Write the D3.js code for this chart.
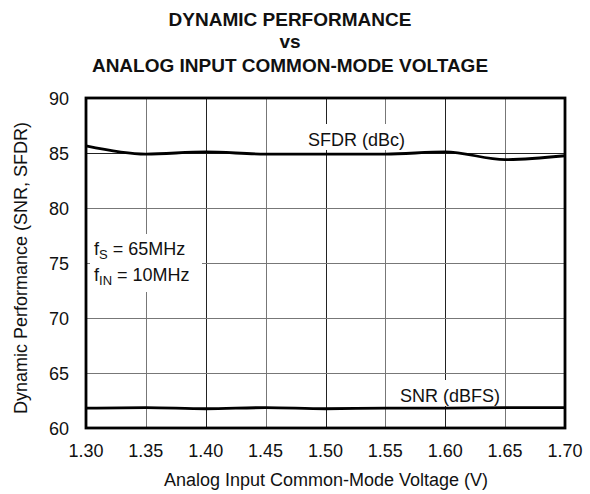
<!DOCTYPE html>
<html>
<head>
<meta charset="utf-8">
<script src="https://cdn.jsdelivr.net/npm/d3@7"></script>
<style>
  body { margin: 0; background: #fff; }
  text { font-family: "Liberation Sans", Arial, Helvetica, sans-serif; fill: #111; }
</style>
</head>
<body>
<div id="container"></div>
<script>
// data
var voltage = [1.30, 1.35, 1.40, 1.45, 1.50, 1.55, 1.60, 1.65, 1.70];
var sfdr = [85.65, 84.9, 85.1, 84.9, 84.9, 84.9, 85.1, 84.4, 84.75];
var snr = [61.8, 61.85, 61.75, 61.85, 61.75, 61.8, 61.8, 61.85, 61.85];
var xTicks = [1.30, 1.35, 1.40, 1.45, 1.50, 1.55, 1.60, 1.65, 1.70];
var yTicks = [60, 65, 70, 75, 80, 85, 90];
var titleLines = ["DYNAMIC PERFORMANCE", "vs", "ANALOG INPUT COMMON-MODE VOLTAGE"];

var width = 590,
height = 494;
var pLeft = 86, pRight = 565, pTop = 98, pBottom = 428;

var svg = d3.select("#container")
.append("svg")
.attr("width", width)
.attr("height", height);

var x = d3.scaleLinear().domain([1.30, 1.70]).range([pLeft, pRight]);
var y = d3.scaleLinear().domain([60, 90]).range([pBottom, pTop]);

// title
svg.selectAll(".title")
.data(titleLines)
.enter()
.append("text")
.attr("x", 290)
.attr("y", function(d, i) { return [26, 48, 72][i]; })
.attr("text-anchor", "middle")
.style("font-weight", "bold")
.style("font-size", "19px")
.text(function(d) { return d; });

// grid
var grid = svg.append("g");
grid.selectAll(".gx")
.data(xTicks.slice(1, -1))
.enter()
.append("line")
.attr("x1", function(d) { return Math.round(x(d)) + 0.5; })
.attr("x2", function(d) { return Math.round(x(d)) + 0.5; })
.attr("y1", pTop).attr("y2", pBottom)
.style("stroke", function(d, i) { return i % 2 == 0 ? "#777" : "#222"; })
.style("stroke-width", 1);

grid.selectAll(".gy")
.data(yTicks.slice(1, -1))
.enter()
.append("line")
.attr("y1", function(d) { return Math.round(y(d)) + 0.5; })
.attr("y2", function(d) { return Math.round(y(d)) + 0.5; })
.attr("x1", pLeft).attr("x2", pRight)
.style("stroke", function(d) { return d == 85 ? "#222" : "#777"; })
.style("stroke-width", 1);

// label boxes (white, cover the grid)
var boxes = [[300, 124, 112, 26], [395, 380, 108, 26], [90, 234, 112, 58]];
svg.selectAll(".box")
.data(boxes)
.enter()
.append("rect")
.attr("x", function(d) { return d[0]; })
.attr("y", function(d) { return d[1]; })
.attr("width", function(d) { return d[2]; })
.attr("height", function(d) { return d[3]; })
.style("fill", "#fff");

// lines
var line_generator = d3.line()
.x(function(d) { return x(d[0]); })
.y(function(d) { return y(d[1]); })
.curve(d3.curveMonotoneX);

[sfdr, snr].forEach(function(s) {
  svg.append("path")
  .datum(voltage.map(function(v, i) { return [v, s[i]]; }))
  .attr("d", line_generator)
  .style("fill", "none")
  .style("stroke", "#000")
  .style("stroke-width", 2.8);
});

// frame
svg.append("rect")
.attr("x", pLeft).attr("y", pTop)
.attr("width", pRight - pLeft).attr("height", pBottom - pTop)
.style("fill", "none")
.style("stroke", "#000")
.style("stroke-width", 2.8);

// axes labels
svg.selectAll(".xt")
.data(xTicks)
.enter()
.append("text")
.attr("x", function(d) { return x(d); })
.attr("y", 457)
.attr("text-anchor", "middle")
.style("font-size", "18px")
.text(function(d) { return d.toFixed(2); });

svg.selectAll(".yt")
.data(yTicks)
.enter()
.append("text")
.attr("x", 69)
.attr("y", function(d) { return y(d) + 6.5; })
.attr("text-anchor", "end")
.style("font-size", "18px")
.text(function(d) { return d; });

svg.append("text")
.attr("x", 326)
.attr("y", 486)
.attr("text-anchor", "middle")
.style("font-size", "18px")
.text("Analog Input Common-Mode Voltage (V)");

svg.append("text")
.attr("transform", "translate(27,268) rotate(-90)")
.attr("text-anchor", "middle")
.style("font-size", "18px")
.text("Dynamic Performance (SNR, SFDR)");

// series labels
svg.append("text")
.attr("x", 308).attr("y", 146)
.style("font-size", "18px")
.text("SFDR (dBc)");

svg.append("text")
.attr("x", 400).attr("y", 402)
.style("font-size", "18px")
.text("SNR (dBFS)");

// conditions
var cond = svg.append("g").style("font-size", "18px");
var t1 = cond.append("text").attr("x", 94).attr("y", 255);
t1.append("tspan").text("f");
t1.append("tspan").attr("dy", 4).style("font-size", "13px").text("S");
t1.append("tspan").attr("dy", -4).text(" = 65MHz");
var t2 = cond.append("text").attr("x", 94).attr("y", 281);
t2.append("tspan").text("f");
t2.append("tspan").attr("dy", 4).style("font-size", "13px").text("IN");
t2.append("tspan").attr("dy", -4).text(" = 10MHz");
</script>
</body>
</html>
